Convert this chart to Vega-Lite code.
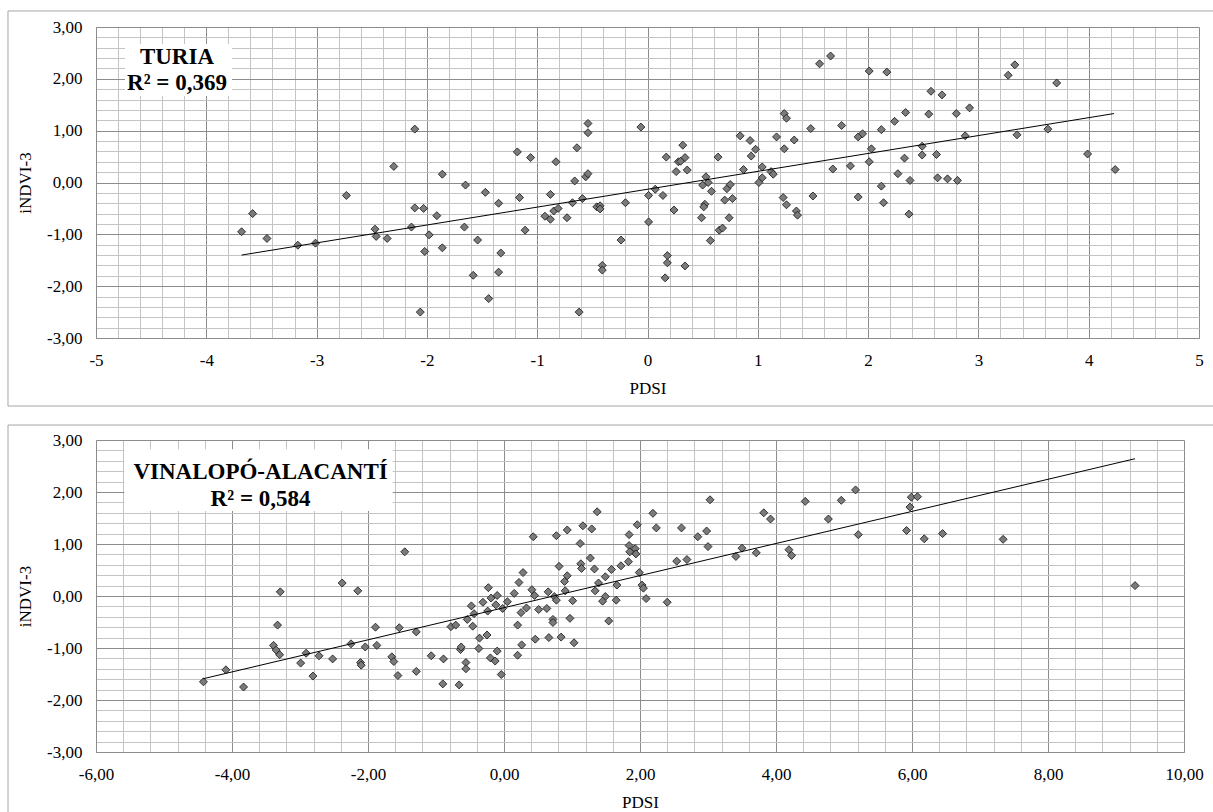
{
  "$schema": "https://vega.github.io/schema/vega-lite/v6.json",
  "background": "white",
  "padding": {"left": 7, "top": 10, "right": 0, "bottom": 0},
  "spacing": 17,
  "config": {
    "view": {"stroke": null},
    "font": "Liberation Serif",
    "axis": {
      "labelFont": "Liberation Serif", "titleFont": "Liberation Serif",
      "labelFontSize": 17, "titleFontSize": 17, "labelColor": "#000", "titleColor": "#000",
      "titleFontWeight": "normal", "labelFlush": false, "labelOverlap": false,
      "ticks": false, "tickSize": 0
    },
    "axisX": {"labelPadding": 14, "titlePadding": 12},
    "axisY": {"labelPadding": 14, "titlePadding": 12}
  },
  "datasets": {
    "turia": [
      {"PDSI":-3.68,"iNDVI3":-0.95},{"PDSI":-3.58,"iNDVI3":-0.60},{"PDSI":-3.45,"iNDVI3":-1.08},{"PDSI":-3.17,"iNDVI3":-1.21},{"PDSI":-3.01,"iNDVI3":-1.17},{"PDSI":-2.47,"iNDVI3":-0.90},{"PDSI":-2.46,"iNDVI3":-1.04},{"PDSI":-2.36,"iNDVI3":-1.08},
      {"PDSI":-2.30,"iNDVI3":0.31},{"PDSI":-2.73,"iNDVI3":-0.25},
      {"PDSI":-2.11,"iNDVI3":1.03},{"PDSI":-1.86,"iNDVI3":0.16},{"PDSI":-1.65,"iNDVI3":-0.05},{"PDSI":-1.47,"iNDVI3":-0.19},{"PDSI":-1.35,"iNDVI3":-0.40},{"PDSI":-1.18,"iNDVI3":0.59},{"PDSI":-1.16,"iNDVI3":-0.29},{"PDSI":-1.06,"iNDVI3":0.48},{"PDSI":-0.88,"iNDVI3":-0.23},{"PDSI":-0.83,"iNDVI3":0.40},{"PDSI":-0.68,"iNDVI3":-0.39},{"PDSI":-0.59,"iNDVI3":-0.31},{"PDSI":-0.64,"iNDVI3":0.67},{"PDSI":-0.66,"iNDVI3":0.03},{"PDSI":-0.54,"iNDVI3":1.14},{"PDSI":-0.54,"iNDVI3":0.96},{"PDSI":-0.56,"iNDVI3":0.11},{"PDSI":-0.54,"iNDVI3":0.17},{"PDSI":-0.20,"iNDVI3":-0.39},{"PDSI":-0.06,"iNDVI3":1.07},{"PDSI":0.01,"iNDVI3":-0.25},{"PDSI":0.07,"iNDVI3":-0.13},{"PDSI":0.14,"iNDVI3":-0.25},{"PDSI":0.17,"iNDVI3":0.49},{"PDSI":0.26,"iNDVI3":0.21},{"PDSI":0.28,"iNDVI3":0.40},{"PDSI":0.30,"iNDVI3":0.41},{"PDSI":0.34,"iNDVI3":0.48},{"PDSI":0.32,"iNDVI3":0.72},{"PDSI":0.36,"iNDVI3":0.24},{"PDSI":0.53,"iNDVI3":0.11},{"PDSI":0.50,"iNDVI3":-0.05},{"PDSI":0.55,"iNDVI3":0.00},{"PDSI":0.58,"iNDVI3":-0.17},{"PDSI":0.64,"iNDVI3":0.49},{"PDSI":0.72,"iNDVI3":-0.12},{"PDSI":0.75,"iNDVI3":-0.04},{"PDSI":0.70,"iNDVI3":-0.34},{"PDSI":0.77,"iNDVI3":-0.31},{"PDSI":0.84,"iNDVI3":0.90},{"PDSI":0.93,"iNDVI3":0.81},{"PDSI":0.98,"iNDVI3":0.64},{"PDSI":0.94,"iNDVI3":0.51},{"PDSI":0.87,"iNDVI3":0.25},{"PDSI":1.04,"iNDVI3":0.30},{"PDSI":1.04,"iNDVI3":0.09},{"PDSI":1.01,"iNDVI3":0.00},{"PDSI":1.17,"iNDVI3":0.88},{"PDSI":1.24,"iNDVI3":1.33},{"PDSI":1.26,"iNDVI3":1.24},{"PDSI":1.24,"iNDVI3":0.65},{"PDSI":1.33,"iNDVI3":0.82},{"PDSI":1.12,"iNDVI3":0.21},{"PDSI":1.14,"iNDVI3":0.16},{"PDSI":1.23,"iNDVI3":-0.29},
      {"PDSI":1.56,"iNDVI3":2.29},{"PDSI":1.66,"iNDVI3":2.44},{"PDSI":2.01,"iNDVI3":2.15},{"PDSI":2.17,"iNDVI3":2.13},{"PDSI":2.57,"iNDVI3":1.76},{"PDSI":2.67,"iNDVI3":1.69},{"PDSI":2.34,"iNDVI3":1.35},{"PDSI":2.24,"iNDVI3":1.18},{"PDSI":2.55,"iNDVI3":1.32},{"PDSI":2.80,"iNDVI3":1.33},{"PDSI":2.92,"iNDVI3":1.44},{"PDSI":1.48,"iNDVI3":1.04},{"PDSI":1.76,"iNDVI3":1.10},{"PDSI":1.91,"iNDVI3":0.88},{"PDSI":1.95,"iNDVI3":0.94},{"PDSI":2.12,"iNDVI3":1.02},{"PDSI":2.03,"iNDVI3":0.65},{"PDSI":2.01,"iNDVI3":0.40},{"PDSI":1.68,"iNDVI3":0.26},{"PDSI":1.84,"iNDVI3":0.32},{"PDSI":2.33,"iNDVI3":0.47},{"PDSI":2.49,"iNDVI3":0.70},{"PDSI":2.49,"iNDVI3":0.53},{"PDSI":2.62,"iNDVI3":0.54},{"PDSI":2.88,"iNDVI3":0.90},{"PDSI":2.27,"iNDVI3":0.17},{"PDSI":2.38,"iNDVI3":0.04},{"PDSI":2.63,"iNDVI3":0.09},{"PDSI":2.72,"iNDVI3":0.07},{"PDSI":2.81,"iNDVI3":0.04},{"PDSI":2.12,"iNDVI3":-0.07},{"PDSI":1.50,"iNDVI3":-0.26},{"PDSI":1.91,"iNDVI3":-0.28},{"PDSI":2.14,"iNDVI3":-0.39},{"PDSI":3.27,"iNDVI3":2.07},{"PDSI":3.33,"iNDVI3":2.27},{"PDSI":3.71,"iNDVI3":1.92},{"PDSI":3.35,"iNDVI3":0.92},{"PDSI":3.63,"iNDVI3":1.03},{"PDSI":3.99,"iNDVI3":0.55},{"PDSI":4.24,"iNDVI3":0.25},{"PDSI":2.37,"iNDVI3":-0.61},
      {"PDSI":-2.11,"iNDVI3":-0.49},{"PDSI":-2.03,"iNDVI3":-0.50},{"PDSI":-1.91,"iNDVI3":-0.64},{"PDSI":-2.14,"iNDVI3":-0.86},{"PDSI":-1.98,"iNDVI3":-1.01},{"PDSI":-2.02,"iNDVI3":-1.33},{"PDSI":-1.86,"iNDVI3":-1.26},{"PDSI":-1.66,"iNDVI3":-0.86},{"PDSI":-1.54,"iNDVI3":-1.11},{"PDSI":-1.33,"iNDVI3":-1.36},{"PDSI":-1.58,"iNDVI3":-1.79},{"PDSI":-1.35,"iNDVI3":-1.73},{"PDSI":-1.44,"iNDVI3":-2.24},{"PDSI":-2.06,"iNDVI3":-2.50},{"PDSI":-1.11,"iNDVI3":-0.92},{"PDSI":-0.93,"iNDVI3":-0.65},{"PDSI":-0.88,"iNDVI3":-0.71},{"PDSI":-0.85,"iNDVI3":-0.55},{"PDSI":-0.81,"iNDVI3":-0.50},{"PDSI":-0.73,"iNDVI3":-0.68},{"PDSI":-0.46,"iNDVI3":-0.47},{"PDSI":-0.43,"iNDVI3":-0.45},{"PDSI":-0.43,"iNDVI3":-0.51},{"PDSI":-0.24,"iNDVI3":-1.11},{"PDSI":-0.41,"iNDVI3":-1.60},{"PDSI":-0.41,"iNDVI3":-1.69},{"PDSI":-0.62,"iNDVI3":-2.50},{"PDSI":0.01,"iNDVI3":-0.76},{"PDSI":0.24,"iNDVI3":-0.53},{"PDSI":0.18,"iNDVI3":-1.41},{"PDSI":0.18,"iNDVI3":-1.55},{"PDSI":0.34,"iNDVI3":-1.61},{"PDSI":0.16,"iNDVI3":-1.84},{"PDSI":0.49,"iNDVI3":-0.68},{"PDSI":0.52,"iNDVI3":-0.42},{"PDSI":0.51,"iNDVI3":-0.47},{"PDSI":0.57,"iNDVI3":-1.12},{"PDSI":0.65,"iNDVI3":-0.92},{"PDSI":0.68,"iNDVI3":-0.88},{"PDSI":0.74,"iNDVI3":-0.68},{"PDSI":1.26,"iNDVI3":-0.43},{"PDSI":1.35,"iNDVI3":-0.55},{"PDSI":1.36,"iNDVI3":-0.63}
    ],
    "turia_trend": [{"PDSI":-3.68,"iNDVI3":-1.40},{"PDSI":4.23,"iNDVI3":1.33}],
    "turia_label": [
      {"label":"TURIA","PDSI":-4.266,"iNDVI3":2.292},
      {"label":"R² = 0,369","PDSI":-4.266,"iNDVI3":1.779}
    ],
    "turia_box": [{"x0":-4.737,"x1":-3.767,"y0":2.672,"y1":1.669}],
    "vinalopo": [
      {"PDSI":-3.29,"iNDVI3":0.08},{"PDSI":-2.38,"iNDVI3":0.25},{"PDSI":-2.15,"iNDVI3":0.10},
      {"PDSI":-3.33,"iNDVI3":-0.56},{"PDSI":-4.42,"iNDVI3":-1.65},{"PDSI":-4.09,"iNDVI3":-1.42},{"PDSI":-3.83,"iNDVI3":-1.75},{"PDSI":-3.39,"iNDVI3":-0.95},{"PDSI":-3.35,"iNDVI3":-1.04},{"PDSI":-3.30,"iNDVI3":-1.13},{"PDSI":-2.99,"iNDVI3":-1.29},{"PDSI":-2.91,"iNDVI3":-1.10},{"PDSI":-2.81,"iNDVI3":-1.54},{"PDSI":-2.72,"iNDVI3":-1.15},{"PDSI":-2.52,"iNDVI3":-1.21},{"PDSI":-2.25,"iNDVI3":-0.92},{"PDSI":-2.11,"iNDVI3":-1.28},{"PDSI":-2.10,"iNDVI3":-1.33},{"PDSI":-2.04,"iNDVI3":-0.98},{"PDSI":-1.89,"iNDVI3":-0.60},{"PDSI":-1.87,"iNDVI3":-0.95},{"PDSI":-1.65,"iNDVI3":-1.17},{"PDSI":-1.62,"iNDVI3":-1.26},{"PDSI":-1.56,"iNDVI3":-1.53},{"PDSI":-1.54,"iNDVI3":-0.61},
      {"PDSI":-1.46,"iNDVI3":0.85},{"PDSI":0.43,"iNDVI3":1.14},{"PDSI":0.77,"iNDVI3":1.16},{"PDSI":0.93,"iNDVI3":1.27},{"PDSI":1.16,"iNDVI3":1.35},{"PDSI":1.29,"iNDVI3":1.29},{"PDSI":1.37,"iNDVI3":1.62},{"PDSI":1.12,"iNDVI3":1.01},{"PDSI":1.27,"iNDVI3":0.73},{"PDSI":0.81,"iNDVI3":0.57},{"PDSI":1.13,"iNDVI3":0.62},{"PDSI":1.14,"iNDVI3":0.53},{"PDSI":1.33,"iNDVI3":0.52},{"PDSI":0.93,"iNDVI3":0.39},{"PDSI":0.89,"iNDVI3":0.28},{"PDSI":0.90,"iNDVI3":0.10},{"PDSI":0.28,"iNDVI3":0.45},{"PDSI":0.22,"iNDVI3":0.26},{"PDSI":0.41,"iNDVI3":0.12},{"PDSI":0.45,"iNDVI3":0.01},{"PDSI":0.15,"iNDVI3":0.05},{"PDSI":0.05,"iNDVI3":-0.11},{"PDSI":-0.10,"iNDVI3":0.01},{"PDSI":-0.23,"iNDVI3":0.16},{"PDSI":-0.19,"iNDVI3":-0.04},{"PDSI":-0.12,"iNDVI3":-0.17},{"PDSI":-0.31,"iNDVI3":-0.12},{"PDSI":-0.48,"iNDVI3":-0.19},{"PDSI":0.65,"iNDVI3":0.08},{"PDSI":0.74,"iNDVI3":-0.01},{"PDSI":0.77,"iNDVI3":-0.08},{"PDSI":1.01,"iNDVI3":-0.09},{"PDSI":1.34,"iNDVI3":0.10},{"PDSI":1.39,"iNDVI3":0.25},{"PDSI":1.49,"iNDVI3":0.37},{"PDSI":1.49,"iNDVI3":-0.01},{"PDSI":1.45,"iNDVI3":-0.10},{"PDSI":1.58,"iNDVI3":0.51},{"PDSI":1.66,"iNDVI3":0.21},{"PDSI":1.65,"iNDVI3":-0.08},{"PDSI":1.72,"iNDVI3":0.58},{"PDSI":1.83,"iNDVI3":0.66},{"PDSI":1.84,"iNDVI3":1.18},{"PDSI":1.84,"iNDVI3":0.97},{"PDSI":1.85,"iNDVI3":0.85},{"PDSI":1.93,"iNDVI3":0.91},{"PDSI":1.94,"iNDVI3":0.81},{"PDSI":1.96,"iNDVI3":1.37},{"PDSI":1.99,"iNDVI3":0.45},{"PDSI":2.03,"iNDVI3":0.21},{"PDSI":2.05,"iNDVI3":0.15},{"PDSI":2.09,"iNDVI3":-0.05},{"PDSI":2.19,"iNDVI3":1.59},{"PDSI":2.24,"iNDVI3":1.31},{"PDSI":2.40,"iNDVI3":-0.12},{"PDSI":2.54,"iNDVI3":0.67},{"PDSI":2.69,"iNDVI3":0.70},{"PDSI":2.61,"iNDVI3":1.31},{"PDSI":2.85,"iNDVI3":1.14},{"PDSI":2.98,"iNDVI3":1.25},{"PDSI":3.00,"iNDVI3":0.95},{"PDSI":3.03,"iNDVI3":1.85},{"PDSI":3.41,"iNDVI3":0.76},{"PDSI":3.50,"iNDVI3":0.92},{"PDSI":3.71,"iNDVI3":0.83},{"PDSI":3.82,"iNDVI3":1.60},{"PDSI":3.92,"iNDVI3":1.48},{"PDSI":4.19,"iNDVI3":0.89},{"PDSI":4.23,"iNDVI3":0.78},
      {"PDSI":4.43,"iNDVI3":1.82},{"PDSI":4.96,"iNDVI3":1.84},{"PDSI":5.17,"iNDVI3":2.04},{"PDSI":4.77,"iNDVI3":1.48},{"PDSI":5.21,"iNDVI3":1.18},{"PDSI":5.99,"iNDVI3":1.90},{"PDSI":6.08,"iNDVI3":1.91},{"PDSI":5.97,"iNDVI3":1.71},{"PDSI":5.92,"iNDVI3":1.26},{"PDSI":6.18,"iNDVI3":1.10},{"PDSI":6.45,"iNDVI3":1.20},{"PDSI":7.34,"iNDVI3":1.09},{"PDSI":9.28,"iNDVI3":0.20},
      {"PDSI":-1.29,"iNDVI3":-0.69},{"PDSI":-1.29,"iNDVI3":-1.45},{"PDSI":-1.07,"iNDVI3":-1.15},{"PDSI":-0.89,"iNDVI3":-1.21},{"PDSI":-0.90,"iNDVI3":-1.69},{"PDSI":-0.66,"iNDVI3":-1.71},{"PDSI":-0.78,"iNDVI3":-0.59},{"PDSI":-0.71,"iNDVI3":-0.56},{"PDSI":-0.64,"iNDVI3":-1.03},{"PDSI":-0.63,"iNDVI3":-0.98},{"PDSI":-0.56,"iNDVI3":-1.28},{"PDSI":-0.56,"iNDVI3":-1.40},{"PDSI":-0.54,"iNDVI3":-0.45},{"PDSI":-0.46,"iNDVI3":-0.58},{"PDSI":-0.44,"iNDVI3":-0.34},{"PDSI":-0.36,"iNDVI3":-0.81},{"PDSI":-0.37,"iNDVI3":-1.01},{"PDSI":-0.25,"iNDVI3":-0.75},{"PDSI":-0.24,"iNDVI3":-0.29},{"PDSI":-0.20,"iNDVI3":-1.19},{"PDSI":-0.13,"iNDVI3":-1.25},{"PDSI":-0.10,"iNDVI3":-1.06},{"PDSI":-0.02,"iNDVI3":-0.24},{"PDSI":-0.04,"iNDVI3":-1.51},{"PDSI":0.20,"iNDVI3":-0.56},{"PDSI":0.25,"iNDVI3":-0.32},{"PDSI":0.33,"iNDVI3":-0.23},{"PDSI":0.26,"iNDVI3":-0.94},{"PDSI":0.20,"iNDVI3":-1.14},{"PDSI":0.46,"iNDVI3":-0.83},{"PDSI":0.51,"iNDVI3":-0.26},{"PDSI":0.63,"iNDVI3":-0.24},{"PDSI":0.66,"iNDVI3":-0.80},{"PDSI":0.72,"iNDVI3":-0.45},{"PDSI":0.72,"iNDVI3":-0.51},{"PDSI":0.84,"iNDVI3":-0.79},{"PDSI":0.97,"iNDVI3":-0.43},{"PDSI":1.03,"iNDVI3":-0.90},{"PDSI":1.54,"iNDVI3":-0.48}
    ],
    "vinalopo_trend": [{"PDSI":-4.42,"iNDVI3":-1.59},{"PDSI":9.28,"iNDVI3":2.64}],
    "vinalopo_label": [
      {"label":"VINALOPÓ-ALACANTÍ","PDSI":-3.58,"iNDVI3":2.244},
      {"label":"R² = 0,584","PDSI":-3.58,"iNDVI3":1.731}
    ],
    "vinalopo_box": [{"x0":-5.584,"x1":-1.637,"y0":2.821,"y1":1.635}]
  },
  "vconcat": [
    {
      "width": 1103, "height": 311,
      "resolve": {"axis": {"x": "independent", "y": "independent"}},
      "layer": [
        {
          "data": {"values": [{}]},
          "mark": {"type": "rect", "fill": null, "stroke": "#a6a6a6", "strokeWidth": 1},
          "encoding": {
            "x": {"datum": -5.798, "type": "quantitative", "scale": {"domain": [-5, 5], "nice": false, "zero": false}, "axis": null},
            "x2": {"datum": 5.163},
            "y": {"datum": 3.309, "type": "quantitative", "scale": {"domain": [-3, 3], "nice": false, "zero": false}, "axis": null},
            "y2": {"datum": -4.312}
          }
        },
        {
          "data": {"name": "turia"},
          "mark": {"type": "point", "shape": "diamond", "filled": true, "fill": "#7b7b7b", "stroke": "#111111", "strokeWidth": 0.8, "size": 64, "opacity": 1},
          "encoding": {
            "x": {"field": "PDSI", "type": "quantitative", "scale": {"domain": [-5, 5], "nice": false, "zero": false},
              "axis": {"orient": "bottom", "values": [-4.8,-4.6,-4.4,-4.2,-3.8,-3.6,-3.4,-3.2,-2.8,-2.6,-2.4,-2.2,-1.8,-1.6,-1.4,-1.2,-0.8,-0.6,-0.4,-0.2,0.2,0.4,0.6,0.8,1.2,1.4,1.6,1.8,2.2,2.4,2.6,2.8,3.2,3.4,3.6,3.8,4.2,4.4,4.6,4.8], "grid": true, "gridColor": "#c4c4c4", "gridWidth": 1, "labels": false, "domain": false, "title": null}},
            "y": {"field": "iNDVI3", "type": "quantitative", "scale": {"domain": [-3, 3], "nice": false, "zero": false},
              "axis": {"orient": "left", "values": [-2.8,-2.6,-2.4,-2.2,-1.8,-1.6,-1.4,-1.2,-0.8,-0.6,-0.4,-0.2,0.2,0.4,0.6,0.8,1.2,1.4,1.6,1.8,2.2,2.4,2.6,2.8], "grid": true, "gridColor": "#c4c4c4", "gridWidth": 1, "labels": false, "domain": false, "title": null}}
          }
        },
        {
          "data": {"name": "turia_trend"},
          "mark": {"type": "line", "color": "#000000", "strokeWidth": 1},
          "encoding": {
            "x": {"field": "PDSI", "type": "quantitative", "scale": {"domain": [-5, 5], "nice": false, "zero": false},
              "axis": {"orient": "bottom", "values": [-5,-4,-3,-2,-1,0,1,2,3,4,5], "grid": true, "gridColor": "#8c8c8c", "gridWidth": 1, "domain": true, "domainColor": "#8c8c8c", "title": "PDSI",
                "labelExpr": "(datum.value < 0 ? '-' : '') + format(abs(datum.value), 'd')"}},
            "y": {"field": "iNDVI3", "type": "quantitative", "scale": {"domain": [-3, 3], "nice": false, "zero": false},
              "axis": {"orient": "left", "values": [-3,-2,-1,0,1,2,3], "grid": true, "gridColor": "#8c8c8c", "gridWidth": 1, "domain": true, "domainColor": "#8c8c8c", "title": "iNDVI-3",
                "labelExpr": "(datum.value < 0 ? '-' : '') + replace(format(abs(datum.value), '.2f'), '.', ',')"}}
          }
        },
        {
          "data": {"name": "turia_box"},
          "mark": {"type": "rect", "fill": "#ffffff", "stroke": null},
          "encoding": {
            "x": {"field": "x0", "type": "quantitative", "scale": {"domain": [-5, 5], "nice": false, "zero": false}, "axis": null},
            "x2": {"field": "x1"},
            "y": {"field": "y0", "type": "quantitative", "scale": {"domain": [-3, 3], "nice": false, "zero": false}, "axis": null},
            "y2": {"field": "y1"}
          }
        },
        {
          "data": {"name": "turia_label"},
          "mark": {"type": "text", "font": "Liberation Serif", "fontSize": 23, "fontWeight": "bold", "align": "center", "baseline": "alphabetic", "color": "#000000"},
          "encoding": {
            "x": {"field": "PDSI", "type": "quantitative", "scale": {"domain": [-5, 5], "nice": false, "zero": false}, "axis": null},
            "y": {"field": "iNDVI3", "type": "quantitative", "scale": {"domain": [-3, 3], "nice": false, "zero": false}, "axis": null},
            "text": {"field": "label"}
          }
        }
      ]
    },
    {
      "width": 1088, "height": 312,
      "resolve": {"axis": {"x": "independent", "y": "independent"}},
      "layer": [
        {
          "data": {"values": [{}]},
          "mark": {"type": "rect", "fill": null, "stroke": "#a6a6a6", "strokeWidth": 1},
          "encoding": {
            "x": {"datum": -7.294, "type": "quantitative", "scale": {"domain": [-6, 10], "nice": false, "zero": false}, "axis": null},
            "x2": {"datum": 10.485},
            "y": {"datum": 3.288, "type": "quantitative", "scale": {"domain": [-3, 3], "nice": false, "zero": false}, "axis": null},
            "y2": {"datum": -4.3}
          }
        },
        {
          "data": {"name": "vinalopo"},
          "mark": {"type": "point", "shape": "diamond", "filled": true, "fill": "#7b7b7b", "stroke": "#111111", "strokeWidth": 0.8, "size": 64, "opacity": 1},
          "encoding": {
            "x": {"field": "PDSI", "type": "quantitative", "scale": {"domain": [-6, 10], "nice": false, "zero": false},
              "axis": {"orient": "bottom", "values": [-5.6,-5.2,-4.8,-4.4,-3.6,-3.2,-2.8,-2.4,-1.6,-1.2,-0.8,-0.4,0.4,0.8,1.2,1.6,2.4,2.8,3.2,3.6,4.4,4.8,5.2,5.6,6.4,6.8,7.2,7.6,8.4,8.8,9.2,9.6], "grid": true, "gridColor": "#c4c4c4", "gridWidth": 1, "labels": false, "domain": false, "title": null}},
            "y": {"field": "iNDVI3", "type": "quantitative", "scale": {"domain": [-3, 3], "nice": false, "zero": false},
              "axis": {"orient": "left", "values": [-2.8,-2.6,-2.4,-2.2,-1.8,-1.6,-1.4,-1.2,-0.8,-0.6,-0.4,-0.2,0.2,0.4,0.6,0.8,1.2,1.4,1.6,1.8,2.2,2.4,2.6,2.8], "grid": true, "gridColor": "#c4c4c4", "gridWidth": 1, "labels": false, "domain": false, "title": null}}
          }
        },
        {
          "data": {"name": "vinalopo_trend"},
          "mark": {"type": "line", "color": "#000000", "strokeWidth": 1},
          "encoding": {
            "x": {"field": "PDSI", "type": "quantitative", "scale": {"domain": [-6, 10], "nice": false, "zero": false},
              "axis": {"orient": "bottom", "values": [-6,-4,-2,0,2,4,6,8,10], "grid": true, "gridColor": "#8c8c8c", "gridWidth": 1, "domain": true, "domainColor": "#8c8c8c", "title": "PDSI",
                "labelExpr": "(datum.value < 0 ? '-' : '') + replace(format(abs(datum.value), '.2f'), '.', ',')"}},
            "y": {"field": "iNDVI3", "type": "quantitative", "scale": {"domain": [-3, 3], "nice": false, "zero": false},
              "axis": {"orient": "left", "values": [-3,-2,-1,0,1,2,3], "grid": true, "gridColor": "#8c8c8c", "gridWidth": 1, "domain": true, "domainColor": "#8c8c8c", "title": "iNDVI-3",
                "labelExpr": "(datum.value < 0 ? '-' : '') + replace(format(abs(datum.value), '.2f'), '.', ',')"}}
          }
        },
        {
          "data": {"name": "vinalopo_box"},
          "mark": {"type": "rect", "fill": "#ffffff", "stroke": null},
          "encoding": {
            "x": {"field": "x0", "type": "quantitative", "scale": {"domain": [-6, 10], "nice": false, "zero": false}, "axis": null},
            "x2": {"field": "x1"},
            "y": {"field": "y0", "type": "quantitative", "scale": {"domain": [-3, 3], "nice": false, "zero": false}, "axis": null},
            "y2": {"field": "y1"}
          }
        },
        {
          "data": {"name": "vinalopo_label"},
          "mark": {"type": "text", "font": "Liberation Serif", "fontSize": 23, "fontWeight": "bold", "align": "center", "baseline": "alphabetic", "color": "#000000"},
          "encoding": {
            "x": {"field": "PDSI", "type": "quantitative", "scale": {"domain": [-6, 10], "nice": false, "zero": false}, "axis": null},
            "y": {"field": "iNDVI3", "type": "quantitative", "scale": {"domain": [-3, 3], "nice": false, "zero": false}, "axis": null},
            "text": {"field": "label"}
          }
        }
      ]
    }
  ]
}
